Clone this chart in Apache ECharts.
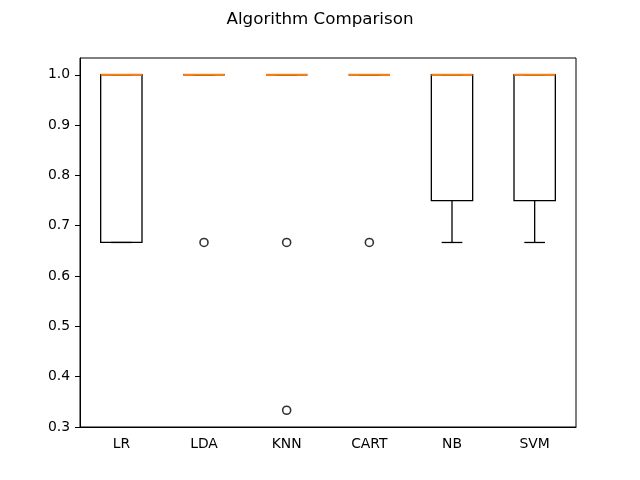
<!DOCTYPE html>
<html>
<head>
<meta charset="utf-8">
<script src="https://cdn.jsdelivr.net/npm/echarts@6/dist/echarts.min.js"></script>
<style>
  html, body { margin: 0; padding: 0; background: #fff; }
</style>
</head>
<body>
<div id="main" style="width: 640px; height: 480px"></div>
<script>
const categories = ["LR", "LDA", "KNN", "CART", "NB", "SVM"];
const whiskerLow = [0.6667, 1, 1, 1, 0.6667, 0.6667];
const q1 = [0.6667, 1, 1, 1, 0.75, 0.75];
const median = [1, 1, 1, 1, 1, 1];
const q3 = [1, 1, 1, 1, 1, 1];
const whiskerHigh = [1, 1, 1, 1, 1, 1];
// [category index, value]
const outliers = [
  [1, 0.6667],
  [2, 0.6667],
  [2, 0.3333],
  [3, 0.6667]
];
const yTicks = [0.3, 0.4, 0.5, 0.6, 0.7, 0.8, 0.9, 1.0];

const boxData = categories.map((c, i) => [
  i, whiskerLow[i], q1[i], median[i], q3[i], whiskerHigh[i]
]);

const font = "DejaVu Sans";

function renderBox(params, api) {
  const i = api.value(0);
  const band = api.size([1, 0])[0];
  const half = band * 0.25;
  const cap = band * 0.125;
  const x = api.coord([i, 0])[0];
  const yWl = api.coord([i, api.value(1)])[1];
  const yQ1 = api.coord([i, api.value(2)])[1];
  const yMed = api.coord([i, api.value(3)])[1];
  const yQ3 = api.coord([i, api.value(4)])[1];
  const yWh = api.coord([i, api.value(5)])[1];
  const black = { stroke: "#000", lineWidth: 1.3, fill: null };
  return {
    type: "group",
    children: [
      { type: "line", shape: { x1: x, y1: yQ1, x2: x, y2: yWl }, style: black },
      { type: "line", shape: { x1: x, y1: yQ3, x2: x, y2: yWh }, style: black },
      { type: "line", shape: { x1: x - cap, y1: yWl, x2: x + cap, y2: yWl }, style: black },
      { type: "line", shape: { x1: x - cap, y1: yWh, x2: x + cap, y2: yWh }, style: black },
      { type: "rect", shape: { x: x - half, y: yQ3, width: half * 2, height: yQ1 - yQ3 }, style: black },
      { type: "line", shape: { x1: x - half, y1: yMed, x2: x + half, y2: yMed },
        style: { stroke: "#ff7f0e", lineWidth: 2 } }
    ]
  };
}

const chart = echarts.init(document.getElementById("main"));
chart.setOption({
  animation: false,
  backgroundColor: "#fff",
  title: {
    text: "Algorithm Comparison",
    left: "center",
    top: 6,
    textStyle: { fontFamily: font, fontSize: 16.7, fontWeight: "normal", color: "#000" }
  },
  grid: {
    left: 80, right: 64, top: 58, bottom: 53,
    show: true, borderColor: "#000", borderWidth: 1, backgroundColor: "transparent"
  },
  xAxis: {
    type: "category",
    data: categories,
    boundaryGap: true,
    axisLine: { lineStyle: { color: "#000", width: 1 } },
    axisTick: { alignWithLabel: true, length: 5, lineStyle: { color: "#000" } },
    axisLabel: { fontFamily: font, fontSize: 13.9, color: "#000", margin: 10 },
    splitLine: { show: false }
  },
  yAxis: {
    type: "value",
    min: 0.3,
    max: 1.0333,
    interval: 0.1,
    axisLine: { show: true, lineStyle: { color: "#000", width: 1 } },
    axisTick: { show: true, length: 5, customValues: yTicks, lineStyle: { color: "#000" } },
    axisLabel: {
      fontFamily: font, fontSize: 13.9, color: "#000", margin: 10,
      customValues: yTicks,
      formatter: v => v.toFixed(1)
    },
    splitLine: { show: false }
  },
  series: [
    {
      type: "custom",
      renderItem: renderBox,
      data: boxData,
      encode: { x: 0, y: [1, 2, 3, 4, 5] }
    },
    {
      type: "scatter",
      data: outliers,
      symbol: "circle",
      symbolSize: 8,
      itemStyle: { color: "rgba(0,0,0,0)", borderColor: "#000", borderWidth: 1.6 }
    }
  ]
});
</script>
</body>
</html>
